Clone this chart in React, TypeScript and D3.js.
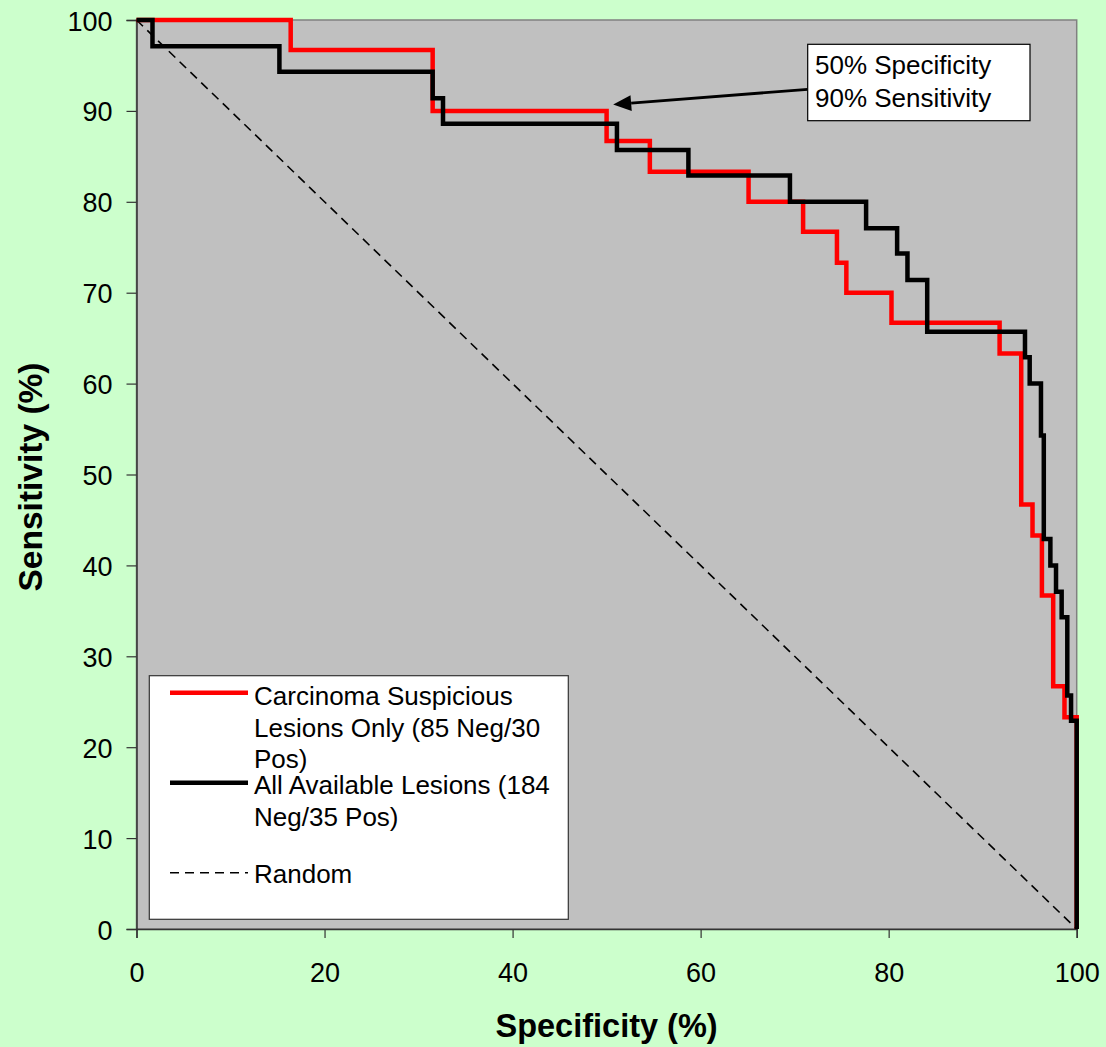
import React, { useEffect, useRef } from "react";
import * as d3 from "d3";

// Carcinoma Suspicious Lesions Only (85 Neg / 30 Pos)
const redSpecificity = [0, 16.4, 31.5, 50.0, 54.6, 65.1, 70.9, 74.5, 75.5, 80.3, 91.8, 94.1, 95.3, 96.3, 97.5, 98.7, 100];
const redSensitivity = [100, 96.7, 90.0, 86.7, 83.3, 80.0, 76.7, 73.3, 70.0, 66.7, 63.3, 46.7, 43.3, 36.7, 26.7, 23.3, 0];

// All Available Lesions (184 Neg / 35 Pos)
const blackSpecificity = [0, 1.7, 15.2, 31.5, 32.6, 51.1, 58.7, 69.5, 77.6, 80.9, 82.0, 84.1, 94.5, 95.0, 96.2, 96.5, 97.2, 97.8, 98.4, 99.0, 99.4, 100];
const blackSensitivity = [100, 97.1, 94.3, 91.4, 88.6, 85.7, 82.9, 80.0, 77.1, 74.3, 71.4, 65.7, 62.9, 60.0, 54.3, 42.9, 40.0, 37.1, 34.3, 25.7, 22.9, 0];

// Random line
const randomSpecificity = [0, 100];
const randomSensitivity = [100, 0];

const xTicks = [0, 20, 40, 60, 80, 100];
const yTicks = [0, 10, 20, 30, 40, 50, 60, 70, 80, 90, 100];

const legendRedLines = ["Carcinoma Suspicious", "Lesions Only (85 Neg/30", "Pos)"];
const legendBlackLines = ["All Available Lesions (184", "Neg/35 Pos)"];
const legendRandom = "Random";
const annotationLines = ["50% Specificity", "90% Sensitivity"];
const annotationPoint = { spec: 50.7, sens: 90.7 };

const W = 1106;
const H = 1047;
const FONT = "'Liberation Sans', Arial, Helvetica, sans-serif";

export default function App() {
  const ref = useRef<SVGSVGElement>(null);

  useEffect(() => {
    const svg = d3.select(ref.current);
    svg.selectAll("*").remove();

    const left = 136.5, right = 1076.7, top = 20, bottom = 929;
    const x = d3.scaleLinear().domain([0, 100]).range([left, right]);
    const y = d3.scaleLinear().domain([0, 100]).range([bottom, top]);

    svg.append("rect").attr("x", 0).attr("y", 0).attr("width", W).attr("height", H).attr("fill", "#CCFFCC");

    // plot area
    svg.append("rect")
      .attr("x", left).attr("y", top)
      .attr("width", right - left).attr("height", bottom - top)
      .attr("fill", "#C0C0C0")
      .attr("stroke", "#808080").attr("stroke-width", 1.5);

    // axes
    const xAxis = d3.axisBottom(x).tickValues(xTicks).tickSize(9).tickFormat(d3.format("d") as any);
    const gx = svg.append("g").attr("transform", `translate(0,${bottom})`).call(xAxis);
    gx.select(".domain").attr("stroke", "#333").attr("stroke-width", 1.5);
    gx.selectAll(".tick line").attr("stroke", "#333").attr("stroke-width", 1.2);
    gx.selectAll(".tick text")
      .attr("font-family", FONT).attr("font-size", 27).attr("fill", "#000")
      .attr("y", 0).attr("dy", 0)
      .attr("transform", "translate(0,53)");

    const yAxis = d3.axisLeft(y).tickValues(yTicks).tickSize(10).tickFormat(d3.format("d") as any);
    const gy = svg.append("g").attr("transform", `translate(${left},0)`).call(yAxis);
    gy.select(".domain").attr("stroke", "#333").attr("stroke-width", 1.5);
    gy.selectAll(".tick line").attr("stroke", "#333").attr("stroke-width", 1.2);
    gy.selectAll(".tick text")
      .attr("font-family", FONT).attr("font-size", 27).attr("fill", "#000")
      .attr("x", -24).attr("dy", 0).attr("y", 10);

    // axis titles
    svg.append("text")
      .attr("x", (left + right) / 2).attr("y", 1037)
      .attr("text-anchor", "middle")
      .attr("font-family", FONT).attr("font-weight", "bold").attr("font-size", 32.5)
      .text("Specificity (%)");
    svg.append("text")
      .attr("transform", `translate(42,${477}) rotate(-90)`)
      .attr("text-anchor", "middle")
      .attr("font-family", FONT).attr("font-weight", "bold").attr("font-size", 33.5)
      .text("Sensitivity (%)");

    const line = d3.line<[number, number]>()
      .x((d) => x(d[0])).y((d) => y(d[1]));
    const stepLine = d3.line<[number, number]>()
      .x((d) => x(d[0])).y((d) => y(d[1])).curve(d3.curveStepAfter);

    // random diagonal
    svg.append("path")
      .attr("d", line(randomSpecificity.map((v, i) => [v, randomSensitivity[i]] as [number, number])))
      .attr("fill", "none").attr("stroke", "#000").attr("stroke-width", 1.6)
      .attr("stroke-dasharray", "9,6");

    // red curve
    svg.append("path")
      .attr("d", stepLine(redSpecificity.map((v, i) => [v, redSensitivity[i]] as [number, number])))
      .attr("fill", "none").attr("stroke", "#FF0000").attr("stroke-width", 4.5)
      .attr("stroke-linejoin", "miter");

    // black curve
    svg.append("path")
      .attr("d", stepLine(blackSpecificity.map((v, i) => [v, blackSensitivity[i]] as [number, number])))
      .attr("fill", "none").attr("stroke", "#000").attr("stroke-width", 4.5)
      .attr("stroke-linejoin", "miter");

    // annotation box
    const bx = 807.7, by = 44.3, bw = 222.3, bh = 76.4;
    const tipX = x(annotationPoint.spec), tipY = y(annotationPoint.sens);
    const sx = bx, sy = 89.3;
    const ang = Math.atan2(tipY - sy, tipX - sx);
    const headLen = 18, headHalf = 8;
    const baseX = tipX - headLen * Math.cos(ang), baseY = tipY - headLen * Math.sin(ang);
    svg.append("line")
      .attr("x1", sx).attr("y1", sy).attr("x2", baseX).attr("y2", baseY)
      .attr("stroke", "#000").attr("stroke-width", 2.8);
    const px = -Math.sin(ang), py = Math.cos(ang);
    svg.append("path")
      .attr("d", `M${tipX},${tipY}L${baseX + px * headHalf},${baseY + py * headHalf}L${baseX - px * headHalf},${baseY - py * headHalf}Z`)
      .attr("fill", "#000");
    svg.append("rect")
      .attr("x", bx).attr("y", by).attr("width", bw).attr("height", bh)
      .attr("fill", "#FFFFFF").attr("stroke", "#000").attr("stroke-width", 1.2);
    annotationLines.forEach((t, i) => {
      svg.append("text")
        .attr("x", 815).attr("y", 74 + i * 33)
        .attr("font-family", FONT).attr("font-size", 26).attr("fill", "#000")
        .text(t);
    });

    // legend
    const lg = svg.append("g");
    lg.append("rect")
      .attr("x", 149.3).attr("y", 675.7).attr("width", 419).attr("height", 243.6)
      .attr("fill", "#FFFFFF").attr("stroke", "#333").attr("stroke-width", 1.2);
    const lx1 = 170, lx2 = 248, tx = 254;
    lg.append("line").attr("x1", lx1).attr("x2", lx2).attr("y1", 692.7).attr("y2", 692.7)
      .attr("stroke", "#FF0000").attr("stroke-width", 4.5);
    legendRedLines.forEach((t, i) => {
      lg.append("text").attr("x", tx).attr("y", 705 + i * 31.7)
        .attr("font-family", FONT).attr("font-size", 26).attr("fill", "#000").text(t);
    });
    lg.append("line").attr("x1", lx1).attr("x2", lx2).attr("y1", 782.7).attr("y2", 782.7)
      .attr("stroke", "#000").attr("stroke-width", 4.5);
    legendBlackLines.forEach((t, i) => {
      lg.append("text").attr("x", tx).attr("y", 793.5 + i * 32.3)
        .attr("font-family", FONT).attr("font-size", 26).attr("fill", "#000").text(t);
    });
    lg.append("line").attr("x1", lx1).attr("x2", lx2).attr("y1", 872.7).attr("y2", 872.7)
      .attr("stroke", "#000").attr("stroke-width", 1.6).attr("stroke-dasharray", "9,6");
    lg.append("text").attr("x", tx).attr("y", 883)
      .attr("font-family", FONT).attr("font-size", 26).attr("fill", "#000").text(legendRandom);
  }, []);

  return (
    <svg
      ref={ref}
      width={W}
      height={H}
      style={{ position: "absolute", left: 0, top: 0, display: "block" }}
    />
  );
}
